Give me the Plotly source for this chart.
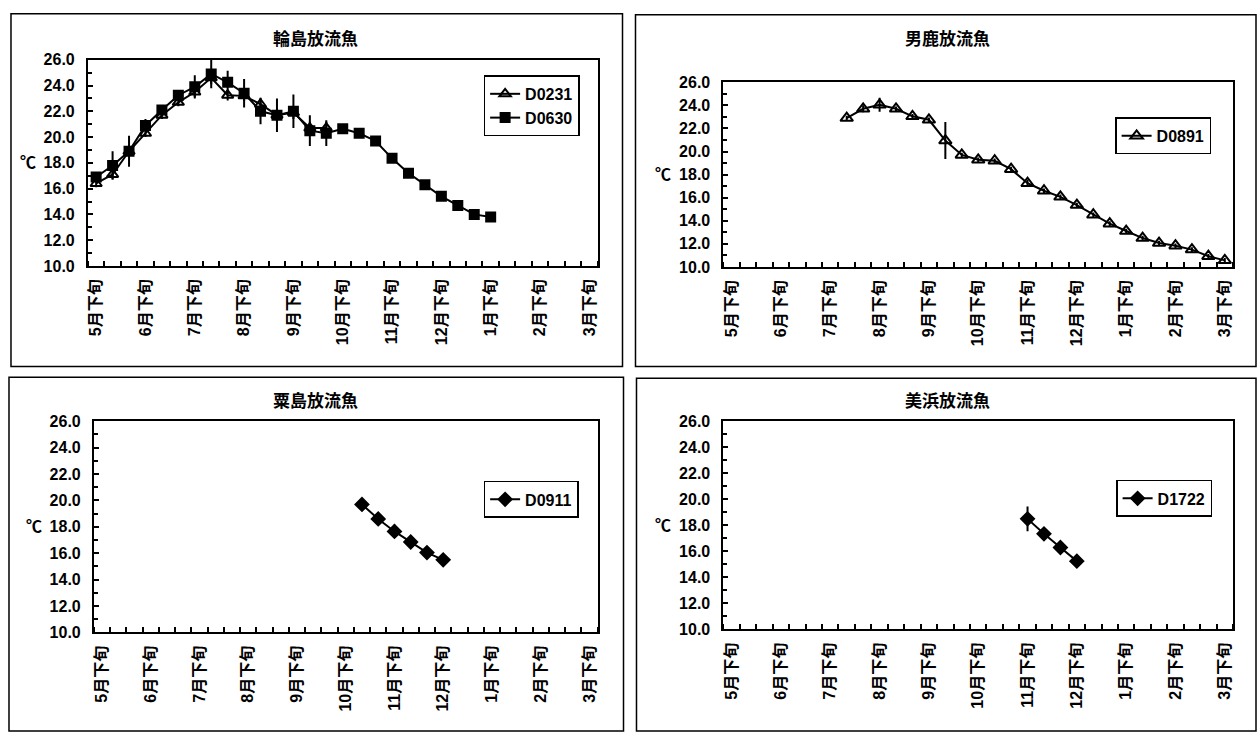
import plotly.graph_objects as go

# ---------------- data ----------------
cats = ["5月下旬", "6月上旬", "6月中旬", "6月下旬", "7月上旬", "7月中旬", "7月下旬",
        "8月上旬", "8月中旬", "8月下旬", "9月上旬", "9月中旬", "9月下旬",
        "10月上旬", "10月中旬", "10月下旬", "11月上旬", "11月中旬", "11月下旬",
        "12月上旬", "12月中旬", "12月下旬", "1月上旬", "1月中旬", "1月下旬",
        "2月上旬", "2月中旬", "2月下旬", "3月上旬", "3月中旬", "3月下旬"]
tick_labels = ["5月下旬", "6月下旬", "7月下旬", "8月下旬", "9月下旬", "10月下旬",
               "11月下旬", "12月下旬", "1月下旬", "2月下旬", "3月下旬"]

titles = ["輪島放流魚", "男鹿放流魚", "粟島放流魚", "美浜放流魚"]

# 輪島
d0231_start = "5月下旬"
d0231 = [16.4, 17.1, 18.9, 20.3, 21.7, 22.7, 23.5, 24.6, 23.25, 23.2, 22.55, 21.7, 21.9, 20.7, 20.7]
d0231_err = [0.3, 0.4, 0.4, 0.3, 0.3, 0.3, 0.4, 0.5, 0.4, 0.4, 0.5, 0.5, 0.5, 0.5, 0.5]
d0630_start = "5月下旬"
d0630 = [16.9, 17.8, 18.9, 20.9, 22.1, 23.25, 23.9, 24.9, 24.25, 23.4, 22.0, 21.7, 22.0,
         20.5, 20.3, 20.65, 20.3, 19.7, 18.35, 17.2, 16.3, 15.4, 14.7, 14.0, 13.8]
d0630_err = [0.3, 1.1, 1.2, 0.5, 0.4, 0.4, 0.9, 1.1, 0.9, 1.1, 1.0, 1.3, 1.3,
             1.2, 1.0, 0.2, 0.3, 0.3, 0.2, 0.2, 0.2, 0.2, 0.1, 0.1, 0.1]
# 男鹿
d0891_start = "8月上旬"
d0891 = [22.9, 23.7, 24.05, 23.7, 23.05, 22.75, 20.95, 19.7, 19.28, 19.2, 18.47, 17.25,
         16.6, 16.07, 15.36, 14.52, 13.75, 13.11, 12.5, 12.07, 11.84, 11.5, 10.93, 10.57]
d0891_err = [0.2, 0.3, 0.6, 0.2, 0.2, 0.2, 1.6, 0.2, 0.2, 0.2, 0.2, 0.3,
             0.2, 0.2, 0.2, 0.2, 0.2, 0.2, 0.2, 0.2, 0.2, 0.2, 0.2, 0.2]
# 粟島
d0911_start = "11月上旬"
d0911 = [19.7, 18.6, 17.65, 16.85, 16.05, 15.5]
d0911_err = [0.1, 0.4, 0.5, 0.4, 0.4, 0.4]
# 美浜
d1722_start = "11月下旬"
d1722 = [18.5, 17.35, 16.3, 15.25]
d1722_err = [0.95, 0.4, 0.3, 0.5]

# ---------------- layout helpers ----------------
W, H = 1260, 742
FONT = "Liberation Sans, Noto Sans CJK JP, sans-serif"


def px_x(v):
    return v / W


def px_y(v):
    return 1 - v / H


# plot areas in pixels: (left, top, right, bottom)
areas = [(87, 53, 597, 264), (723, 76, 1233, 265), (93, 423, 597, 639), (723, 423, 1233, 636)]
panels = [(10, 6, 622, 367), (635, 7, 1256, 367), (8, 378, 623, 740), (636, 379, 1256, 740)]
title_pos = [(315, 32), (947, 32), (315, 402), (947, 402)]
legend_pos = [(483, 69), (1115, 112), (483, 484), (1116, 483)]


def xs(start, vals):
    i0 = cats.index(start)
    return list(range(i0, i0 + len(vals)))


fig = go.Figure()


def add(series, start, err, name, k, symbol, size):
    ax = "" if k == 0 else str(k + 1)
    fig.add_trace(go.Scatter(
        x=xs(start, series), y=series, name=name, mode="lines+markers",
        xaxis="x" + ax, yaxis="y" + ax,
        legend="legend" + ax,
        line=dict(color="black", width=2),
        marker=dict(symbol=symbol, size=size, color="black",
                    line=dict(color="black", width=2)),
        error_y=dict(type="data", array=err, visible=True, color="black",
                     thickness=2, width=0),
    ))


add(d0231, d0231_start, d0231_err, "D0231", 0, "triangle-up-open", 10)
add(d0630, d0630_start, d0630_err, "D0630", 0, "square", 9)
add(d0891, d0891_start, d0891_err, "D0891", 1, "triangle-up-open", 11)
add(d0911, d0911_start, d0911_err, "D0911", 2, "diamond", 10)
add(d1722, d1722_start, d1722_err, "D1722", 3, "diamond", 10)

layout = dict(
    width=W, height=H, margin=dict(l=0, r=0, t=0, b=0),
    paper_bgcolor="white", plot_bgcolor="white",
    font=dict(family=FONT, color="black", size=14),
    showlegend=True,
)

tickvals = [cats.index(t) for t in tick_labels]
shapes = []
annotations = []
for k in range(4):
    ax = "" if k == 0 else str(k + 1)
    l, t, r, b = areas[k]
    layout["xaxis" + ax] = dict(
        domain=[px_x(l), px_x(r)], anchor="y" + ax,
        range=[-0.5, len(cats) - 0.5], tickmode="array",
        tickvals=tickvals, ticktext=tick_labels, tickangle=-90,
        ticks="", showgrid=False, zeroline=False,
        showline=True, mirror=True, linecolor="black", linewidth=2,
        tickfont=dict(family=FONT, size=16, weight="bold"),
        ticklabelstandoff=5,
        minor=dict(tickmode="linear", tick0=-0.5, dtick=1, ticks="inside",
                   ticklen=5, tickwidth=2, tickcolor="black", showgrid=False),
    )
    layout["yaxis" + ax] = dict(
        domain=[px_y(b), px_y(t)], anchor="x" + ax,
        range=[10, 26], dtick=2, tick0=10, tickformat=".1f",
        ticks="inside", ticklen=5, tickwidth=2, tickcolor="black",
        showgrid=False, zeroline=False,
        showline=True, mirror=True, linecolor="black", linewidth=2,
        tickfont=dict(family=FONT, size=16, weight="bold"),
        ticklabelstandoff=8,
        minor=dict(dtick=1, ticks="inside", ticklen=4, tickwidth=2,
                   tickcolor="black", showgrid=False),
    )
    lx, ly = legend_pos[k]
    layout["legend" + ax] = dict(
        x=px_x(lx), y=px_y(ly), xanchor="left", yanchor="top",
        bgcolor="white", bordercolor="black", borderwidth=1.5,
        font=dict(family=FONT, size=16, weight="bold"),
        tracegroupgap=0, itemwidth=30,
    )
    pl, pt, pr, pb = panels[k]
    shapes.append(dict(type="rect", xref="paper", yref="paper",
                       x0=px_x(pl), x1=px_x(pr), y0=px_y(pb), y1=px_y(pt),
                       line=dict(color="black", width=1.5), layer="below"))
    tx, ty = title_pos[k]
    annotations.append(dict(text=titles[k], x=px_x(tx), y=px_y(ty), xref="paper", yref="paper",
                            showarrow=False, xanchor="center", yanchor="middle",
                            font=dict(family=FONT, size=17, weight="bold")))
    annotations.append(dict(text="℃", x=px_x(l - 50), y=px_y((t + b) / 2), xref="paper",
                            yref="paper", showarrow=False, xanchor="right", yanchor="middle",
                            font=dict(family=FONT, size=16, weight="bold")))

layout["shapes"] = shapes
layout["annotations"] = annotations
fig.update_layout(**layout)
fig.write_html("out.html")
